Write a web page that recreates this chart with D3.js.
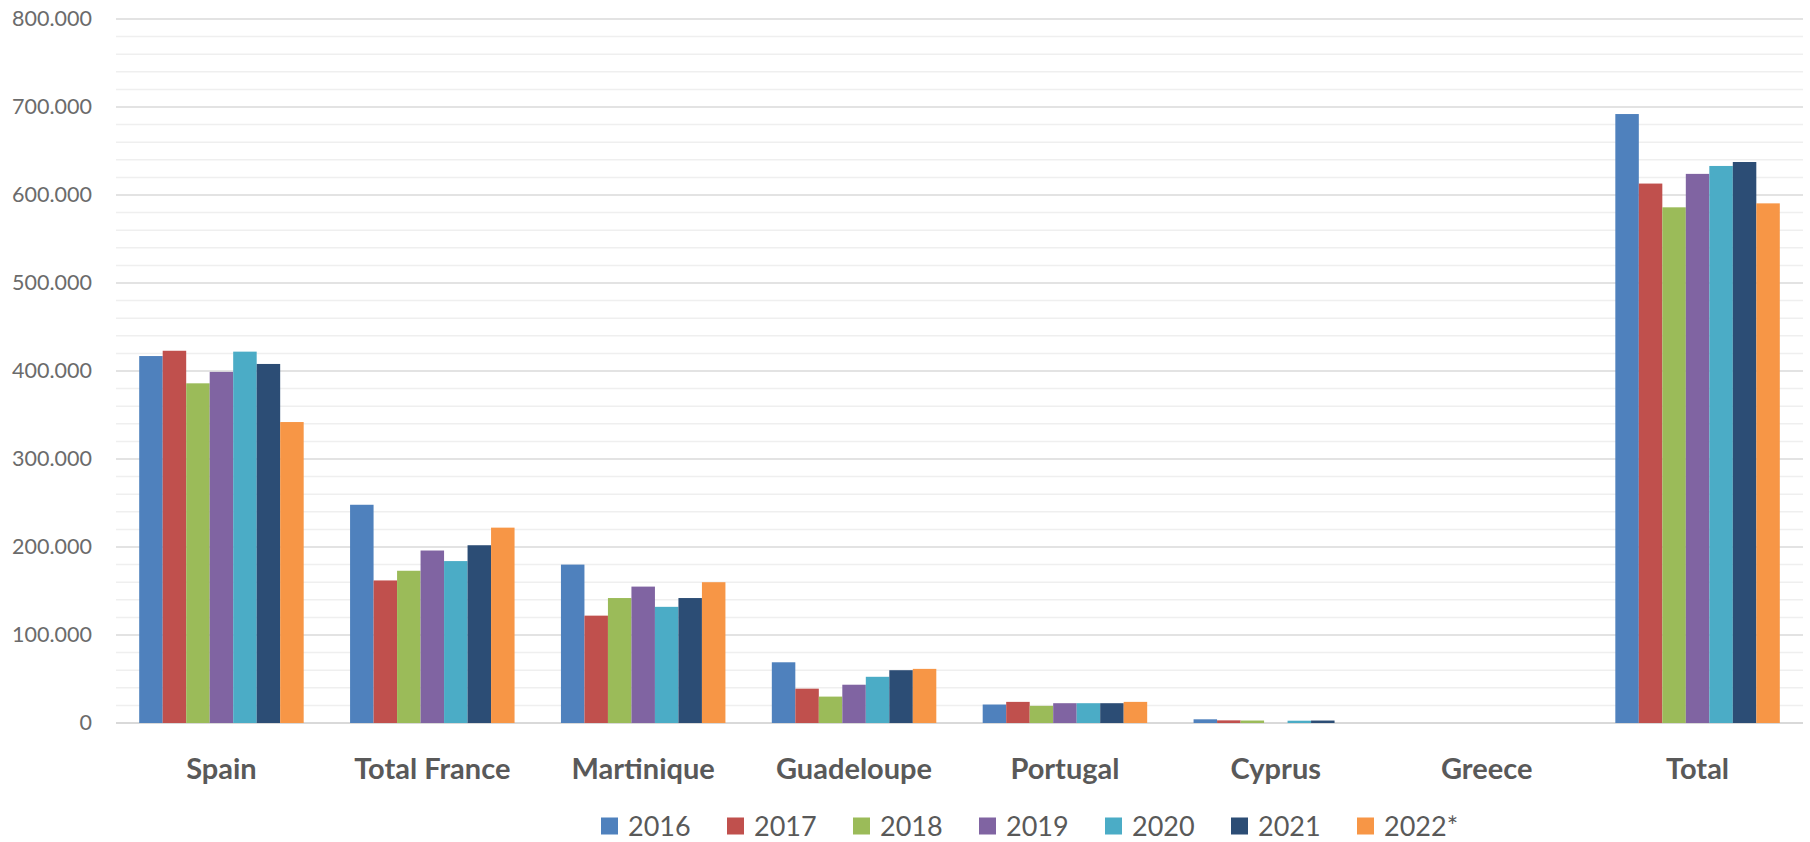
<!DOCTYPE html>
<html>
<head>
<meta charset="utf-8">
<script src="https://cdn.jsdelivr.net/npm/d3@7"></script>
<style>
  body { margin: 0; background: #fff; }
  text { font-family: Lato, "Open Sans", sans-serif; }
</style>
</head>
<body>
<div id="chart"></div>
<script>
// data
const categories = ["Spain", "Total France", "Martinique", "Guadeloupe", "Portugal", "Cyprus", "Greece", "Total"];
const years = ["2016", "2017", "2018", "2019", "2020", "2021", "2022*"];
const v2016 = [417000, 248000, 180000, 69000, 21000, 4200, 0, 692000];
const v2017 = [423000, 162000, 122000, 39000, 24000, 3000, 0, 613000];
const v2018 = [386000, 173000, 142000, 30000, 19500, 2800, 0, 586000];
const v2019 = [399000, 196000, 155000, 43500, 22500, 0, 0, 624000];
const v2020 = [422000, 184000, 132000, 52500, 22500, 2600, 0, 633000];
const v2021 = [408000, 202000, 142000, 60000, 22500, 2800, 0, 637500];
const v2022 = [342000, 222000, 160000, 61500, 24000, 0, 0, 590500];
const yTicks = [0, 100000, 200000, 300000, 400000, 500000, 600000, 700000, 800000];
const colors = ["#4F81BD", "#C0504D", "#9BBB59", "#8064A2", "#4BACC6", "#2C4D75", "#F79646"];

const series = [v2016, v2017, v2018, v2019, v2020, v2021, v2022];

const cfg = { w: 1810, h: 842, left: 116, right: 1803, top: 19, bottom: 723 };

const svg = d3.select("#chart").append("svg")
  .attr("width", cfg.w).attr("height", cfg.h);

const x0 = d3.scaleBand()
  .domain(categories)
  .range([cfg.left, cfg.right])
  .paddingInner(0.22)
  .paddingOuter(0.11);

const x1 = d3.scaleBand()
  .domain(years)
  .range([0, x0.bandwidth()]);

const y = d3.scaleLinear()
  .domain([0, 800000])
  .range([cfg.bottom, cfg.top]);

// minor gridlines (every 20.000)
svg.append("g")
  .selectAll("line")
  .data(y.ticks(40).filter(d => yTicks.indexOf(d) < 0))
  .enter().append("line")
    .attr("x1", cfg.left).attr("x2", cfg.right)
    .attr("y1", d => y(d)).attr("y2", d => y(d))
    .attr("stroke", "#efefef")
    .attr("stroke-width", 1.5);

// major gridlines
svg.append("g")
  .selectAll("line")
  .data(yTicks)
  .enter().append("line")
    .attr("x1", cfg.left).attr("x2", cfg.right)
    .attr("y1", d => y(d)).attr("y2", d => y(d))
    .attr("stroke", d => d === 0 ? "#d9d9d9" : "#e3e3e3")
    .attr("stroke-width", 2);

// y axis labels
const yAxis = svg.append("g")
  .attr("transform", "translate(" + (cfg.left - 24) + ",0)")
  .call(d3.axisLeft(y).tickValues(yTicks).tickSize(0).tickPadding(0)
    .tickFormat(d => d3.format(",")(d).replace(/,/g, ".")));
yAxis.select(".domain").remove();
yAxis.selectAll("text")
  .style("font-size", "21.5px")
  .style("font-family", "Lato, 'Open Sans', sans-serif")
  .attr("fill", "#6b6b6b");

// bars
const groups = svg.append("g")
  .selectAll("g")
  .data(categories)
  .enter().append("g")
    .attr("transform", d => "translate(" + x0(d) + ",0)");

groups.selectAll("rect")
  .data((c, ci) => years.map((yr, si) => ({ year: yr, value: series[si][ci], color: colors[si] })))
  .enter().append("rect")
    .attr("x", d => x1(d.year))
    .attr("width", x1.bandwidth())
    .attr("y", d => y(d.value))
    .attr("height", d => y(0) - y(d.value))
    .attr("fill", d => d.color);

// category labels
const xAxis = svg.append("g")
  .attr("transform", "translate(0," + cfg.bottom + ")")
  .call(d3.axisBottom(x0).tickSize(0).tickPadding(0));
xAxis.select(".domain").remove();
xAxis.selectAll("text")
  .attr("dy", null)
  .attr("y", 56)
  .style("font-size", "29px")
  .style("font-weight", "bold")
  .style("font-family", "Lato, 'Open Sans', sans-serif")
  .attr("fill", "#595959");

// legend
const legend = svg.append("g")
  .attr("transform", "translate(601,826)");

const item = legend.selectAll("g")
  .data(years)
  .enter().append("g")
    .attr("transform", (d, i) => "translate(" + (i * 126) + ",0)");

item.append("rect")
  .attr("x", 0).attr("y", -8.5)
  .attr("width", 17).attr("height", 17)
  .attr("fill", (d, i) => colors[i]);

item.append("text")
  .attr("x", 27)
  .attr("dy", "0.36em")
  .style("font-size", "27px")
  .attr("fill", "#595959")
  .text(d => d);
</script>
</body>
</html>
